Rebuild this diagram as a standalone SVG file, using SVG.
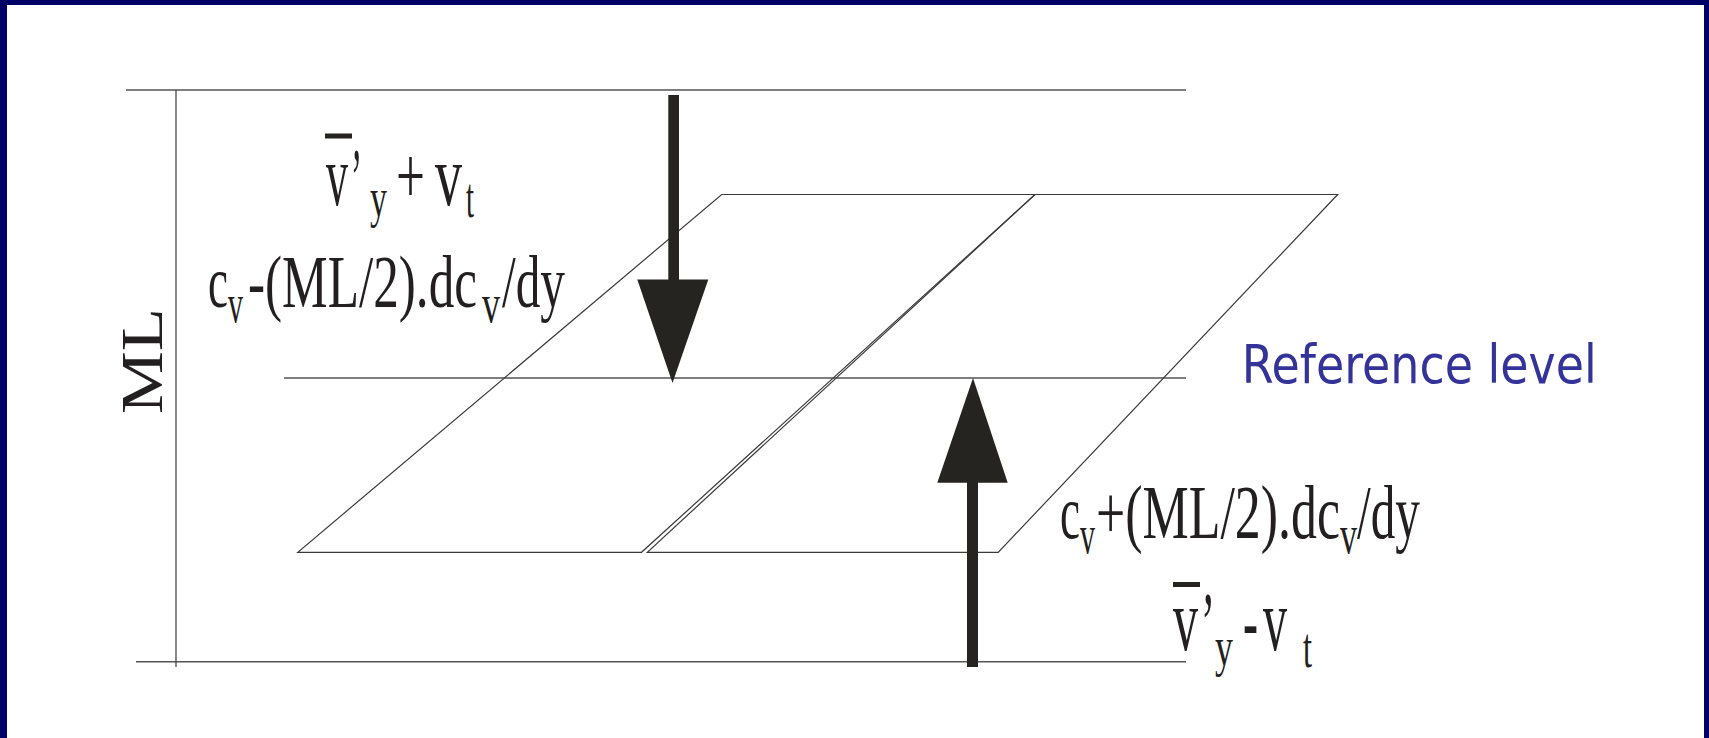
<svg xmlns="http://www.w3.org/2000/svg" width="1709" height="738" viewBox="0 0 1709 738">
  <style>
    .ln { stroke: #3a3a3a; stroke-width: 1.2; fill: none; }
    .hl { stroke: #555555; stroke-width: 1.6; fill: none; }
    .arr { fill: #262420; }
    .f { font-family: "Liberation Serif", "Times New Roman", serif; fill: #231f20; }
    .ref { font-family: "DejaVu Sans", Tahoma, Verdana, sans-serif; fill: #333399; }
  </style>
  <rect x="0" y="0" width="1709" height="738" fill="#ffffff"/>
  <g id="frame" fill="#000066">
    <rect x="0" y="0" width="1709" height="5"/>
    <rect x="0" y="0" width="7" height="738"/>
    <rect x="1704" y="0" width="5" height="738"/>
  </g>
  <g id="levels">
    <line class="hl" x1="126" y1="90" x2="1186" y2="90"/>
    <line class="hl" x1="284" y1="378" x2="1186" y2="378"/>
    <line class="hl" x1="136" y1="661.7" x2="1186" y2="661.7"/>
    <line class="ln" x1="176" y1="90" x2="176" y2="667"/>
  </g>
  <g id="plane-left">
    <polygon class="ln" points="721.7,194.5 1035,194.5 641.5,552.3 297.8,552.3"/>
  </g>
  <g id="plane-right">
    <polygon class="ln" points="1035,194.5 1337.7,194.5 998.2,552.3 647.3,552.3"/>
  </g>
  <g id="connectors">
    <g id="arrow-down">
      <rect class="arr" x="668.3" y="95" width="10.7" height="185"/>
      <polygon class="arr" points="637.3,279.5 708.3,279.5 672.5,383"/>
    </g>
    <g id="arrow-up">
      <rect class="arr" x="967" y="482" width="11" height="185"/>
      <polygon class="arr" points="937.3,482.7 1007.7,482.7 973,378"/>
    </g>
  </g>
  <g id="label-ML">
    <text class="f" font-size="60" textLength="106" lengthAdjust="spacingAndGlyphs" transform="translate(162,414) rotate(-90)">ML</text>
  </g>
  <g id="label-top-flux">
    <rect class="arr" x="325" y="133.5" width="27" height="5"/>
    <text class="f" x="326" y="205" font-size="86" textLength="22" lengthAdjust="spacingAndGlyphs">v</text>
    <text class="f" x="351" y="208" font-size="86" textLength="11" lengthAdjust="spacingAndGlyphs">’</text>
    <text class="f" x="370" y="216" font-size="54" textLength="17" lengthAdjust="spacingAndGlyphs">y</text>
    <text class="f" x="396" y="203" font-size="80" textLength="29" lengthAdjust="spacingAndGlyphs">+</text>
    <text class="f" x="435" y="205" font-size="86" textLength="27" lengthAdjust="spacingAndGlyphs">v</text>
    <text class="f" x="466" y="217" font-size="58" textLength="8" lengthAdjust="spacingAndGlyphs">t</text>
  </g>
  <g id="label-top-conc">
    <text class="f" x="208" y="307" font-size="74" textLength="20" lengthAdjust="spacingAndGlyphs">c</text>
    <text class="f" x="228" y="322" font-size="54" textLength="15" lengthAdjust="spacingAndGlyphs">v</text>
    <text class="f" x="248" y="307" font-size="74" textLength="229" lengthAdjust="spacingAndGlyphs">-(ML/2).dc</text>
    <text class="f" x="482" y="322" font-size="54" textLength="18" lengthAdjust="spacingAndGlyphs">v</text>
    <text class="f" x="502" y="307" font-size="74" textLength="63" lengthAdjust="spacingAndGlyphs">/dy</text>
  </g>
  <g id="label-reference">
    <text class="ref" x="1241.7" y="383.3" font-size="54" textLength="355" lengthAdjust="spacingAndGlyphs">Reference level</text>
  </g>
  <g id="label-bottom-conc">
    <text class="f" x="1060" y="538.3" font-size="76" textLength="20" lengthAdjust="spacingAndGlyphs">c</text>
    <text class="f" x="1080" y="553" font-size="54" textLength="15" lengthAdjust="spacingAndGlyphs">v</text>
    <text class="f" x="1096" y="538.3" font-size="76" textLength="244" lengthAdjust="spacingAndGlyphs">+(ML/2).dc</text>
    <text class="f" x="1340" y="553" font-size="54" textLength="17" lengthAdjust="spacingAndGlyphs">v</text>
    <text class="f" x="1357" y="538.3" font-size="76" textLength="63" lengthAdjust="spacingAndGlyphs">/dy</text>
  </g>
  <g id="label-bottom-flux">
    <rect class="arr" x="1173" y="582" width="27" height="5"/>
    <text class="f" x="1173" y="650" font-size="88" textLength="25" lengthAdjust="spacingAndGlyphs">v</text>
    <text class="f" x="1201" y="653" font-size="88" textLength="14" lengthAdjust="spacingAndGlyphs">’</text>
    <text class="f" x="1215" y="665" font-size="54" textLength="18" lengthAdjust="spacingAndGlyphs">y</text>
    <text class="f" x="1243" y="651" font-size="88" textLength="15" lengthAdjust="spacingAndGlyphs">-</text>
    <text class="f" x="1263" y="650" font-size="88" textLength="24" lengthAdjust="spacingAndGlyphs">v</text>
    <text class="f" x="1303" y="667" font-size="58" textLength="9" lengthAdjust="spacingAndGlyphs">t</text>
  </g>
</svg>
